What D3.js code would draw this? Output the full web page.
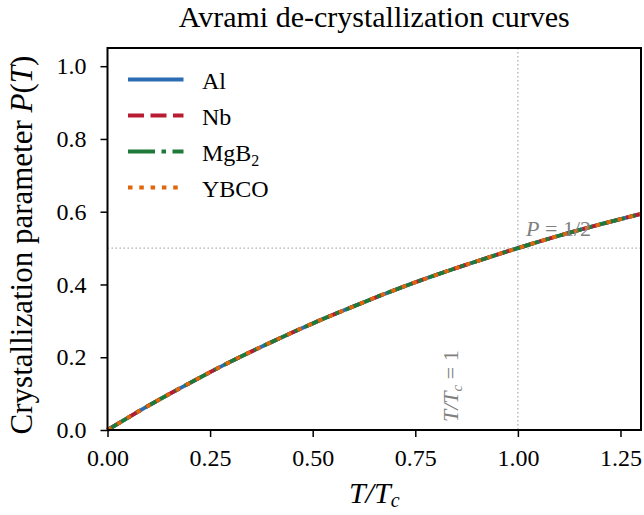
<!DOCTYPE html>
<html>
<head>
<meta charset="utf-8">
<script src="https://cdn.jsdelivr.net/npm/d3@7"></script>
<style>
  body { margin: 0; background: #fff; }
  text { font-family: "Liberation Serif", "DejaVu Serif", serif; }
</style>
</head>
<body>
<div id="chart"></div>
<script>
// values
const tValues = [0, 0.1, 0.2, 0.3, 0.4, 0.5, 0.6, 0.7, 0.8, 0.9, 1.0, 1.1, 1.2, 1.3];
const pAl   = [0, 0.067, 0.129, 0.188, 0.242, 0.293, 0.340, 0.385, 0.426, 0.464, 0.500, 0.534, 0.565, 0.594];
const pNb   = [0, 0.067, 0.129, 0.188, 0.242, 0.293, 0.340, 0.385, 0.426, 0.464, 0.500, 0.534, 0.565, 0.594];
const pMgB2 = [0, 0.067, 0.129, 0.188, 0.242, 0.293, 0.340, 0.385, 0.426, 0.464, 0.500, 0.534, 0.565, 0.594];
const pYBCO = [0, 0.067, 0.129, 0.188, 0.242, 0.293, 0.340, 0.385, 0.426, 0.464, 0.500, 0.534, 0.565, 0.594];
const xTicks = [0, 0.25, 0.5, 0.75, 1.0, 1.25];
const yTicks = [0, 0.2, 0.4, 0.6, 0.8, 1.0];

const series = [
    { name: 'Al',   values: pAl,   color: '#2b6cb2', dash: null },
    { name: 'Nb',   values: pNb,   color: '#b71c32', dash: '16,6.5' },
    { name: 'MgB2', values: pMgB2, color: '#1f7a3a', dash: '27,6.5,4.5,6.5' },
    { name: 'YBCO', values: pYBCO, color: '#e0650b', dash: '4.5,6.8' }
];

const svg = d3.select('#chart').append('svg').attr('width', 644).attr('height', 515);

const margin = { top: 48, right: 3, bottom: 85, left: 107.5 },
    width = 644 - margin.left - margin.right,
    height = 515 - margin.top - margin.bottom;

const x = d3.scaleLinear().domain([0, 1.3]).range([0, width]);
const y = d3.scaleLinear().domain([0, 1.05]).range([height, 0]);

const g = svg.append('g')
    .attr('transform', `translate(${margin.left},${margin.top})`);

// reference lines
g.append('line')
    .attr('x1', x(1)).attr('x2', x(1))
    .attr('y1', 0).attr('y2', height)
    .attr('stroke', '#b0b0b0').attr('stroke-width', 1.3)
    .attr('stroke-dasharray', '1.5,2.5');

g.append('line')
    .attr('x1', 0).attr('x2', width)
    .attr('y1', y(0.5)).attr('y2', y(0.5))
    .attr('stroke', '#b0b0b0').attr('stroke-width', 1.3)
    .attr('stroke-dasharray', '1.5,2.5');

// curves
const line = d3.line()
    .x((d, i) => x(tValues[i]))
    .y(d => y(d))
    .curve(d3.curveMonotoneX);

series.forEach(s => {
    g.append('path')
        .datum(s.values)
        .attr('fill', 'none')
        .attr('stroke', s.color)
        .attr('stroke-width', 3.8)
        .attr('stroke-dasharray', s.dash)
        .attr('d', line);
});

// annotations
g.append('text')
    .attr('x', x(1.02))
    .attr('y', y(0.5) - 12)
    .attr('fill', '#808080')
    .attr('font-size', 22)
    .attr('font-style', 'italic')
    .html('P<tspan font-style="normal"> = 1/2</tspan>');

g.append('text')
    .attr('transform', `translate(${x(1) - 60},${height - 8}) rotate(-90)`)
    .attr('fill', '#808080')
    .attr('font-size', 22)
    .attr('font-style', 'italic')
    .html('T/T<tspan font-size="15" dy="4">c</tspan><tspan dy="-4" font-style="normal"> = 1</tspan>');

// axes
const xAxis = g.append('g')
    .attr('transform', `translate(0,${height})`)
    .call(d3.axisBottom(x).tickValues(xTicks).tickFormat(d3.format('.2f')).tickSizeOuter(0).tickSize(7).tickPadding(12));

const yAxis = g.append('g')
    .call(d3.axisLeft(y).tickValues(yTicks).tickFormat(d3.format('.1f')).tickSizeOuter(0).tickSize(7).tickPadding(14));

[xAxis, yAxis].forEach(a => {
    a.select('.domain').remove();
    a.selectAll('line').attr('stroke', '#000').attr('stroke-width', 1.5);
    a.selectAll('text').attr('font-size', 24).attr('fill', '#000')
        .style('font-family', '"Liberation Serif", serif');
});

// frame
g.append('rect')
    .attr('width', width).attr('height', height)
    .attr('fill', 'none').attr('stroke', '#000').attr('stroke-width', 2);

// legend
const legend = g.append('g').attr('transform', 'translate(20.5,31.5)');
series.forEach((s, i) => {
    const row = legend.append('g').attr('transform', `translate(0,${i * 36})`);
    row.append('line')
        .attr('x1', 0).attr('x2', 55.5)
        .attr('stroke', s.color).attr('stroke-width', 3.8)
        .attr('stroke-dasharray', s.dash);
    const t = row.append('text').attr('x', 74).attr('y', 9.5).attr('font-size', 24);
    if (s.name === 'MgB2') {
        t.html('MgB<tspan font-size="16" dy="5">2</tspan>');
    } else {
        t.text(s.name);
    }
});

// title and axis labels
svg.append('text')
    .attr('x', margin.left + width / 2)
    .attr('y', 27)
    .attr('text-anchor', 'middle')
    .attr('font-size', 30)
    .text('Avrami de-crystallization curves');

svg.append('text')
    .attr('x', margin.left + width / 2)
    .attr('y', 503)
    .attr('text-anchor', 'middle')
    .attr('font-size', 30)
    .attr('font-style', 'italic')
    .html('T/T<tspan font-size="20" dy="4">c</tspan>');

svg.append('text')
    .attr('transform', `translate(32,${margin.top + height / 2 + 6}) rotate(-90)`)
    .attr('text-anchor', 'middle')
    .attr('font-size', 31)
    .html('Crystallization parameter <tspan font-style="italic">P</tspan>(<tspan font-style="italic">T</tspan>)');
</script>
</body>
</html>
